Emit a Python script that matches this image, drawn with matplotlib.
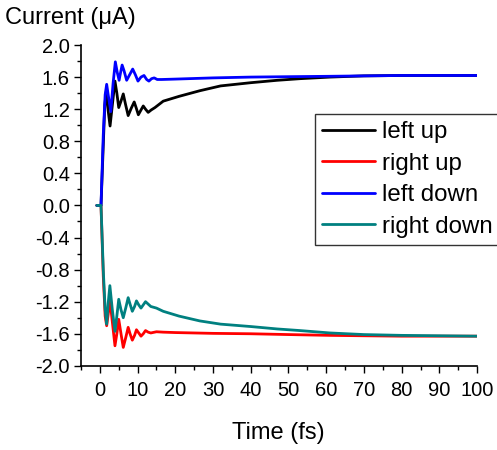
import numpy as np
from matplotlib import pyplot as plt
from matplotlib.ticker import MultipleLocator, FormatStrFormatter

# values
t_left_up = [-0.8, 0.3, 0.9, 1.3, 1.7, 2.2, 2.7, 3.3, 4.0, 4.5, 5.0, 5.6, 6.2, 6.8, 7.5,
             8.3, 9.1, 9.6, 10.2, 10.9, 11.5, 12.1, 12.8, 13.6, 14.6, 16.8, 21, 26.5,
             32, 40, 47, 53, 61, 70, 80, 90, 100]
left_up = [0, 0, 0.75, 1.25, 1.42, 1.18, 0.99, 1.25, 1.55, 1.40, 1.22, 1.30, 1.39, 1.26, 1.12,
           1.21, 1.29, 1.22, 1.13, 1.19, 1.24, 1.20, 1.16, 1.19, 1.22, 1.30, 1.36, 1.43,
           1.49, 1.53, 1.56, 1.58, 1.60, 1.615, 1.62, 1.62, 1.62]

t_left_down = [-0.8, 0.3, 0.9, 1.4, 1.8, 2.2, 2.9, 3.5, 4.1, 4.6, 5.1, 5.5, 5.9, 6.4, 7.1,
               7.9, 8.7, 9.4, 10.1, 10.9, 11.7, 12.4, 13.0, 13.7, 14.4, 15.2, 16.4, 20,
               30, 40, 50, 61, 70, 80, 100]
left_down = [0, 0, 0.88, 1.38, 1.51, 1.38, 1.17, 1.52, 1.79, 1.66, 1.56, 1.66, 1.75, 1.68, 1.56,
             1.63, 1.70, 1.63, 1.55, 1.60, 1.62, 1.57, 1.55, 1.58, 1.59, 1.57, 1.57, 1.575,
             1.59, 1.60, 1.605, 1.61, 1.615, 1.62, 1.62]

t_right_up = [-0.8, 0.3, 0.9, 1.4, 1.8, 2.2, 2.65, 3.3, 4.0, 4.5, 5.0, 5.6, 6.2, 6.9, 7.5,
              8.0, 8.6, 9.2, 9.7, 10.3, 10.9, 11.5, 12.1, 12.8, 13.5, 15, 16.8, 20,
              30, 40, 50, 61, 70, 80, 100]
right_up = [0, 0, -0.88, -1.38, -1.50, -1.36, -1.17, -1.45, -1.75, -1.60, -1.42, -1.60, -1.77, -1.64, -1.52,
            -1.60, -1.68, -1.62, -1.55, -1.59, -1.63, -1.60, -1.56, -1.58, -1.59, -1.575, -1.58, -1.585,
            -1.595, -1.60, -1.61, -1.62, -1.625, -1.63, -1.63]

t_right_down = [-0.8, 0.3, 0.9, 1.4, 1.8, 2.2, 2.65, 3.3, 4.0, 4.5, 5.0, 5.6, 6.2, 6.9, 7.5,
                8.0, 8.6, 9.2, 9.7, 10.3, 10.9, 11.5, 12.1, 12.8, 13.5, 15, 16.8, 21, 26.5,
                32, 40, 47, 53, 61, 70, 80, 90, 100]
right_down = [0, 0, -0.8, -1.30, -1.48, -1.22, -1.0, -1.30, -1.57, -1.38, -1.17, -1.30, -1.40, -1.27, -1.15,
              -1.23, -1.32, -1.26, -1.19, -1.24, -1.28, -1.24, -1.20, -1.23, -1.26, -1.28, -1.32, -1.38, -1.44,
              -1.48, -1.51, -1.54, -1.56, -1.59, -1.61, -1.62, -1.625, -1.63]

plt.rcParams['font.family'] = ['Liberation Sans', 'DejaVu Sans']
plt.rcParams['axes.unicode_minus'] = False

fig = plt.figure(figsize=(4.97, 4.5), dpi=100)
ax = fig.add_axes([0.163, 0.187, 0.797, 0.713])

style = dict(lw=2.0, solid_joinstyle='round', solid_capstyle='round')
ax.plot(t_left_up, left_up, color='black', label='left up', **style)
ax.plot(t_right_up, right_up, color='#ff0000', label='right up', **style)
ax.plot(t_left_down, left_down, color='#0000ff', label='left down', **style)
ax.plot(t_right_down, right_down, color='#008080', label='right down', **style)

ax.set_xlim(-5, 100)
ax.set_ylim(-2.0, 2.0)
ax.xaxis.set_major_locator(MultipleLocator(10))
ax.xaxis.set_minor_locator(MultipleLocator(5))
ax.yaxis.set_major_locator(MultipleLocator(0.4))
ax.yaxis.set_minor_locator(MultipleLocator(0.2))
ax.yaxis.set_major_formatter(FormatStrFormatter('%.1f'))

for side in ['top', 'right']:
    ax.spines[side].set_visible(False)
for side in ['left', 'bottom']:
    ax.spines[side].set_linewidth(1.2)
ax.tick_params(which='major', direction='out', length=5, width=1, labelsize=14.5)
ax.tick_params(which='minor', direction='out', length=3, width=1)
ax.tick_params(axis='y', which='major', pad=3)
ax.tick_params(axis='x', which='major', pad=6)

fig.text(0.01, 0.96, 'Current (\u03bcA)', fontsize=17, va='center', ha='left')
fig.text(0.56, 0.038, 'Time (fs)', fontsize=17, va='center', ha='center')

leg = ax.legend(loc='upper left', bbox_to_anchor=(0.634, 0.747), bbox_transform=fig.transFigure,
                borderaxespad=0, fontsize=17.3, frameon=True, fancybox=False, edgecolor='black',
                handlelength=2.2, handletextpad=0.3, labelspacing=0.4, borderpad=0.3)
leg.get_frame().set_linewidth(1.0)

fig.savefig('out.png', dpi=100)
